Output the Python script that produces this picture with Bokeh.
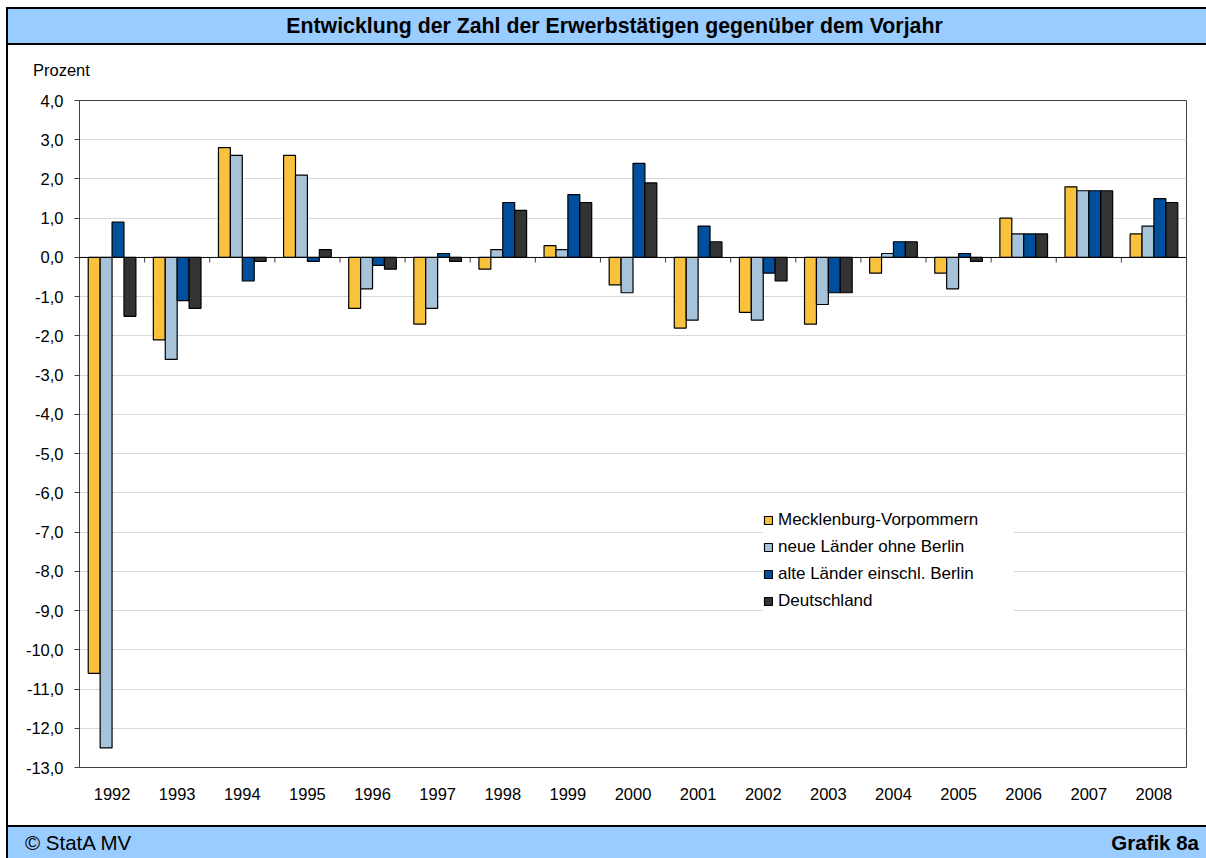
from bokeh.plotting import figure
from bokeh.models import (FactorRange, Range1d, FixedTicker, Span, Legend, LegendItem,
                          Div, ColumnDataSource)
from bokeh.layouts import column, row
from bokeh.transform import dodge
from bokeh.embed import file_html
from bokeh.resources import INLINE

# ---------------- data ----------------
years = [str(y) for y in range(1992, 2009)]
mv = [-10.6, -2.1, 2.8, 2.6, -1.3, -1.7, -0.3, 0.3, -0.7, -1.8, -1.4, -1.7, -0.4, -0.4, 1.0, 1.8, 0.6]
neue = [-12.5, -2.6, 2.6, 2.1, -0.8, -1.3, 0.2, 0.2, -0.9, -1.6, -1.6, -1.2, 0.1, -0.8, 0.6, 1.7, 0.8]
alte = [0.9, -1.1, -0.6, -0.1, -0.2, 0.1, 1.4, 1.6, 2.4, 0.8, -0.4, -0.9, 0.4, 0.1, 0.6, 1.7, 1.5]
deutschland = [-1.5, -1.3, -0.1, 0.2, -0.3, -0.1, 1.2, 1.4, 1.9, 0.4, -0.6, -0.9, 0.4, -0.1, 0.6, 1.7, 1.4]
series_names = ["Mecklenburg-Vorpommern", "neue Länder ohne Berlin",
                "alte Länder einschl. Berlin", "Deutschland"]
y_ticks = list(range(-13, 5))
y_tick_labels = {t: f"{t},0" for t in y_ticks}
title_text = "Entwicklung der Zahl der Erwerbstätigen gegenüber dem Vorjahr"
unit_text = "Prozent"
source_text = "© StatA MV"
graphic_text = "Grafik 8a"

# ---------------- style ----------------
FONT = "Liberation Sans"
FS = "16.5px"
BIG = "20.5px"
colors = ["#F9C23C", "#A6C3DA", "#004F9C", "#333333"]
BLUE = "#99CCFF"

src = ColumnDataSource(dict(year=years, mv=mv, neue=neue, alte=alte, de=deutschland))
keys = ["mv", "neue", "alte", "de"]

p = figure(x_range=FactorRange(factors=years, range_padding=0),
           y_range=Range1d(min(y_ticks), max(y_ticks)),
           width=1198, height=740, output_backend="svg", toolbar_location=None,
           min_border_left=71, min_border_right=20, min_border_top=15, min_border_bottom=58)
p.background_fill_color = "white"
p.border_fill_color = "white"
p.outline_line_color = "#404040"
p.outline_line_width = 1

bw = 0.183
offsets = [-1.5 * bw, -0.5 * bw, 0.5 * bw, 1.5 * bw]
renderers = []
for k, off, c in zip(keys, offsets, colors):
    r = p.vbar(x=dodge("year", off, range=p.x_range), top=k, bottom=0, width=bw,
               source=src, fill_color=c, line_color="black", line_width=1.2)
    renderers.append(r)

# category tick marks on the zero line
bounds = list(range(1, len(years)))
p.segment(x0=bounds, y0=[0] * len(bounds), x1=bounds, y1=[-0.13] * len(bounds),
          line_color="#404040", line_width=1)
p.add_layout(Span(location=0, dimension="width", line_color="black", line_width=1))

# axes
p.xaxis.axis_line_color = None
p.xaxis.major_tick_line_color = None
p.xaxis.minor_tick_line_color = None
p.xaxis.major_label_standoff = 14
p.xaxis.major_label_text_font = FONT
p.xaxis.major_label_text_font_size = FS
p.xaxis.major_label_text_color = "black"

p.yaxis.ticker = FixedTicker(ticks=y_ticks)
p.yaxis.major_label_overrides = y_tick_labels
p.yaxis.axis_line_color = "#404040"
p.yaxis.major_tick_line_color = "#404040"
p.yaxis.major_tick_out = 5
p.yaxis.major_tick_in = 0
p.yaxis.minor_tick_line_color = None
p.yaxis.major_label_standoff = 11
p.yaxis.major_label_text_font = FONT
p.yaxis.major_label_text_font_size = FS
p.yaxis.major_label_text_color = "black"

p.xgrid.grid_line_color = None
p.ygrid.ticker = FixedTicker(ticks=y_ticks)
p.ygrid.grid_line_color = "#D9D9D9"
p.ygrid.grid_line_width = 1

legend = Legend(items=[LegendItem(label=n, renderers=[r]) for n, r in zip(series_names, renderers)],
                location=(684, 156), padding=10, spacing=7, glyph_width=10, glyph_height=10,
                label_height=20, label_width=236, label_standoff=5, label_text_font=FONT,
                label_text_font_size="17px", label_text_color="black",
                background_fill_color="white",
                background_fill_alpha=1, border_line_color=None, margin=0)
p.add_layout(legend)

# ---------------- frame pieces ----------------
title_div = Div(
    text=f'<div style="width:1198px;box-sizing:border-box;font-family:\'{FONT}\';font-size:21.3px;'
         f'font-weight:bold;color:black;text-align:center;line-height:34px;padding-left:15px;">'
         f'{title_text}</div>',
    width=1200, height=38, margin=0,
    styles={"background-color": BLUE, "border-top": "2px solid black",
            "border-bottom": "2px solid black", "border-left": "2px solid black",
            "box-sizing": "border-box"})

unit_div = Div(
    text=f'<div style="font-family:\'{FONT}\';font-size:{FS};color:black;'
         f'line-height:20px;padding-top:15px;padding-left:25px;">{unit_text}</div>',
    width=1198, height=40, margin=0, styles={"background-color": "white"})

strip = Div(text="", width=2, height=780, margin=0, styles={"background-color": "black"})

footer_div = Div(
    text=f'<div style="width:1198px;box-sizing:border-box;font-family:\'{FONT}\';font-size:{BIG};'
         f'color:black;line-height:31px;display:flex;justify-content:space-between;'
         f'padding-left:17px;padding-right:7px;">'
         f'<span>{source_text}</span><span style="font-weight:bold;">{graphic_text}</span></div>',
    width=1200, height=33, margin=0,
    styles={"background-color": BLUE, "border-top": "2px solid black",
            "border-left": "2px solid black", "box-sizing": "border-box"})

layout = column(title_div, row(strip, column(unit_div, p, spacing=0), spacing=0), footer_div,
                spacing=0, margin=(7, 0, 0, 6))

open("out.html", "w").write(file_html(layout, INLINE))
